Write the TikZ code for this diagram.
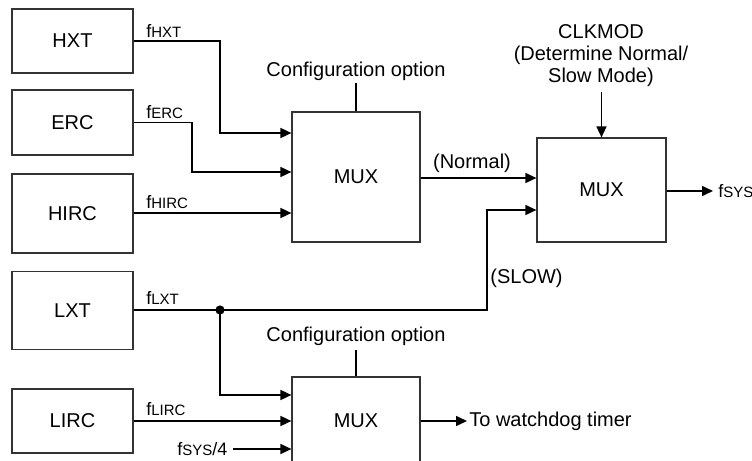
\documentclass[tikz,border=0pt]{standalone}
\usepackage{fontspec}
\setmainfont{Liberation Sans}
\usetikzlibrary{arrows.meta}
\newcommand{\fsub}[1]{{\fontsize{9}{10}\selectfont f}{\fontsize{7.5}{8}\selectfont #1}}
\begin{document}
\begin{tikzpicture}[x=0.5pt,y=-0.5pt,
  font=\fontsize{10}{11}\selectfont,
  blk/.style={draw=black!80, line width=0.6pt, minimum width=60.5pt, inner sep=0pt},
  muxbox/.style={draw=black!80, line width=0.6pt, minimum width=64pt, inner sep=0pt},
  wire/.style={line width=0.8pt, -{Triangle[length=5.5pt,width=5pt]}},
  plain/.style={line width=0.8pt},
  lbl/.style={inner sep=0pt, anchor=base west}]
\path[use as bounding box, clip] (0,0) rectangle (752,461);

% source blocks
\node[blk, minimum height=32pt]   (HXT)  at (72.5,41)  {HXT};
\node[blk, minimum height=32.5pt] (ERC)  at (72.5,122.5) {ERC};
\node[blk, minimum height=39.5pt] (HIRC) at (72.5,213.5) {HIRC};
\node[blk, minimum height=39pt]   (LXT)  at (72.5,310.5) {LXT};
\node[blk, minimum height=32pt]   (LIRC) at (72.5,421) {LIRC};

% muxes
\node[muxbox, minimum height=65pt] (mux1) at (356,177) {MUX};
\node[muxbox, minimum width=64.5pt, minimum height=52pt] (mux2) at (601.5,190) {MUX};
\node[muxbox, minimum height=44pt] (mux3) at (356,421) {MUX};

% configuration labels
\node (cfg1) at (356,71) {Configuration option};
\node (cfg2) at (356,336) {Configuration option};
\draw[plain] (mux1.north) -- (356,83);
\draw[plain] (mux3.north) -- (356,350);

% CLKMOD
\node[align=center, inner sep=0pt] (clk) at (601,56) {CLKMOD\\(Determine Normal/\\Slow Mode)};
\coordinate (clktop) at (601.5,92);
\draw[wire] (clktop) -- (mux2.north);

% input wires
\draw[wire] (HXT.east) -- (220,41) -- (220,133) -- (mux1.west |- 0,133);
\draw[wire] (ERC.east) -- (192,122.5) -- (192,172) -- (mux1.west |- 0,172);
\draw[wire] (HIRC.east |- 0,213) -- (mux1.west |- 0,213);

\node[lbl] (lHXT)  at (146,37)  {\fsub{HXT}};
\node[lbl] (lERC)  at (146,118) {\fsub{ERC}};
\node[lbl] (lHIRC) at (146,208) {\fsub{HIRC}};
\node[lbl] (lLXT)  at (146,304) {\fsub{LXT}};
\node[lbl] (lLIRC) at (146,415) {\fsub{LIRC}};

% normal path
\draw[wire] (mux1.east |- 0,178) -- (mux2.west |- 0,178);
\node (normal) at (472,163) {(Normal)};

% LXT / slow path
\coordinate (J) at (220,310);
\draw[wire] (LXT.east |- J) -- (J) -- (487,310) -- (487,210) -- (mux2.west |- 0,210);
\fill (J) circle (2.3pt);
\node[anchor=west, inner sep=0pt] (slow) at (490,278) {(SLOW)};
\draw[wire] (J) -- (220,395) -- (mux3.west |- 0,395);

% LIRC and fsys/4
\draw[wire] (LIRC.east) -- (mux3.west |- 0,421);
\node[lbl] (fs4) at (177,455) {\fsub{SYS}{\fontsize{9}{10}\selectfont /4}};
\coordinate (fs4end) at (233,449);
\draw[wire] (fs4end) -- (mux3.west |- 0,449);

% outputs
\coordinate (wdg) at (467,421);
\draw[wire] (mux3.east) -- (wdg);
\node[anchor=west, inner sep=1pt] (wdgt) at (wdg) {To watchdog timer};
\coordinate (fsysend) at (713,191);
\draw[wire] (mux2.east |- 0,191) -- (fsysend);
\node[lbl] (fsys) at (718,197) {\fsub{SYS}};
\end{tikzpicture}
\end{document}
